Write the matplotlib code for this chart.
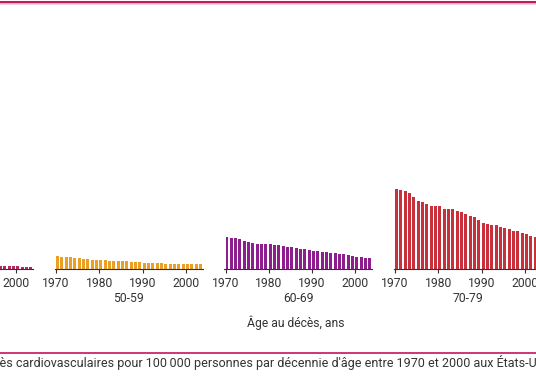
import matplotlib.pyplot as plt
from matplotlib.lines import Line2D

plt.rcParams['font.family'] = ['Roboto', 'DejaVu Sans']

years = list(range(1970, 2004))
groups = ['40-49', '50-59', '60-69', '70-79']

# décès cardiovasculaires pour 100 000 personnes (valeurs estimées sur l'image)
deaths_40_49 = [330, 325, 318, 310, 295, 285, 275, 265, 258, 250, 245, 240, 232, 225,
                220, 212, 205, 200, 195, 188, 180, 175, 170, 165, 160, 155, 150, 145,
                140, 135, 130, 125, 120, 115]
deaths_50_59 = [633, 617, 600, 583, 550, 533, 500, 483, 467, 450, 433, 433, 417, 400,
                400, 383, 383, 367, 350, 333, 300, 300, 283, 283, 283, 267, 267, 267,
                250, 250, 250, 233, 233, 233]
deaths_60_69 = [1583, 1567, 1533, 1500, 1417, 1367, 1317, 1250, 1250, 1233, 1233, 1217,
                1183, 1150, 1117, 1083, 1050, 1017, 1000, 950, 917, 883, 850, 850, 817,
                783, 750, 733, 700, 650, 617, 600, 567, 550]
deaths_70_79 = [4020, 3950, 3880, 3800, 3600, 3380, 3330, 3250, 3170, 3130, 3130, 3000,
                3000, 3000, 2880, 2870, 2750, 2670, 2600, 2470, 2300, 2230, 2200, 2200,
                2080, 2070, 2000, 1900, 1880, 1820, 1750, 1670, 1600, 1550]
series = [deaths_40_49, deaths_50_59, deaths_60_69, deaths_70_79]
colors = ['#b02a62', '#e9a025', '#8e1e8e', '#c8313c']

caption = ("Décès cardiovasculaires pour 100\u202f000 personnes par décennie d'âge "
           "entre 1970 et 2000 aux États-Unis")

W, H = 536, 386
fig = plt.figure(figsize=(W / 100, H / 100), dpi=100)

px_year = 4.33
x1970 = [-113.5, 56, 225.5, 395]
base_y = 269
ax_h = 100
x_lo, x_hi = 1969.7, 2003.9

for i in range(len(groups)):
    left = x1970[i] - (1970 - x_lo) * px_year
    width = (x_hi - x_lo) * px_year
    ax = fig.add_axes([left / W, (H - base_y) / H, width / W, ax_h / H])
    ax.bar(years, series[i], width=0.68, align='edge', color=colors[i], linewidth=0)
    ax.set_xlim(x_lo, x_hi)
    ax.set_ylim(0, ax_h * 50)
    for s in ['left', 'right', 'top']:
        ax.spines[s].set_visible(False)
    ax.spines['bottom'].set_color('#333333')
    ax.spines['bottom'].set_linewidth(0.8)
    ax.set_yticks([])
    ax.set_xticks([1970, 1980, 1990, 2000])
    ax.tick_params(axis='x', length=3, width=0.8, pad=3, labelsize=8.7,
                   color='#333333', labelcolor='#333333')
    ax.set_xlabel(groups[i], fontsize=8.7, labelpad=1.5, color='#333333')
    ax.patch.set_alpha(0)

fig.text(296 / W, 1 - 323 / H, 'Âge au décès, ans', ha='center', va='center',
         fontsize=8.7, color='#333333')

# lignes roses du cadre
fig.add_artist(Line2D([0, 1], [1 - 1.5 / H] * 2, color='#c41a5e', lw=2.2))
fig.add_artist(Line2D([0, 1], [1 - 4 / H] * 2, color='#f7c6dc', lw=1.2))
fig.add_artist(Line2D([0, 1], [1 - 352.5 / H] * 2, color='#c8286a', lw=1.3))

# légende coupée sur les deux bords comme dans l'original
cap_y = 1 - 362 / H
r = fig.canvas.get_renderer()
fs = 7.5
t1 = fig.text(0, cap_y, 'ès' + caption[5:caption.index('Unis') + 2], fontsize=fs)
fs = fs * 541 / t1.get_window_extent(r).width
t1.remove()
t2 = fig.text(0, cap_y, 'Déc', fontsize=fs)
w_pre = t2.get_window_extent(r).width
t2.remove()
fig.text(-w_pre / W, cap_y, caption, ha='left', va='center', fontsize=fs,
         color='#333333')

fig.savefig('out.png', dpi=100)
